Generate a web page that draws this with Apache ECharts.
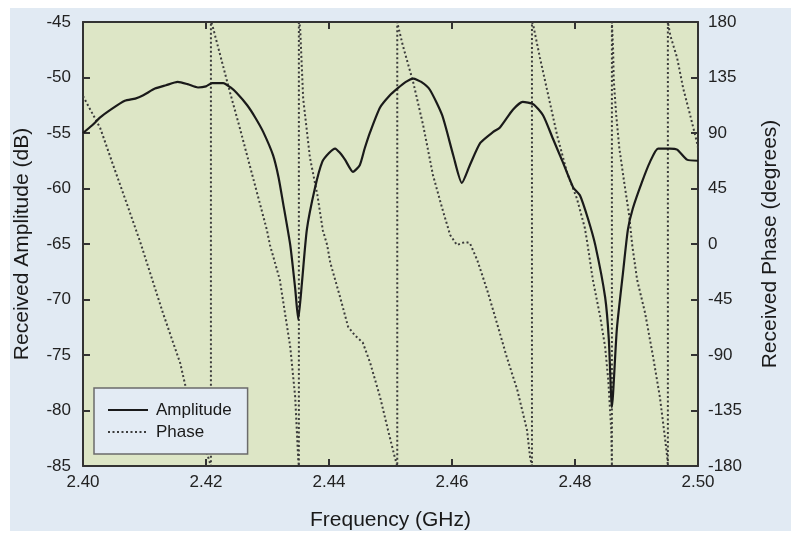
<!DOCTYPE html>
<html>
<head>
<meta charset="utf-8">
<script src="https://cdn.jsdelivr.net/npm/echarts@6/dist/echarts.min.js"></script>
<style>
  html, body { margin: 0; padding: 0; background: #ffffff; }
  #bg { position: absolute; left: 10px; top: 8px; width: 781px; height: 523px; background: #e1eaf3; }
  #chart { position: absolute; left: 0; top: 0; width: 791px; height: 533px; }
</style>
</head>
<body>
<div id="bg"></div>
<div id="chart"></div>
<script>
// ---- Data ----
const freqTicks = [2.40, 2.42, 2.44, 2.46, 2.48, 2.50];

const ampFreq = [2.4000, 2.4015, 2.4028, 2.4045, 2.4068, 2.4085, 2.4098, 2.4117, 2.4135, 2.4154,
  2.4170, 2.4187, 2.4200, 2.4210, 2.4228, 2.4240, 2.4250, 2.4267, 2.4280, 2.4293,
  2.4309, 2.4318, 2.4325, 2.4337, 2.4345, 2.4350, 2.4356, 2.4364, 2.4377, 2.4389,
  2.4400, 2.4410, 2.4418, 2.4426, 2.4439, 2.4450, 2.4458, 2.4467, 2.4483, 2.4499,
  2.4511, 2.4525, 2.4537, 2.4550, 2.4564, 2.4584, 2.4602, 2.4616, 2.4629, 2.4646,
  2.4667, 2.4678, 2.4699, 2.4715, 2.4732, 2.4748, 2.4764, 2.4780, 2.4797, 2.4808,
  2.4821, 2.4833, 2.4849, 2.4855, 2.4860, 2.4868, 2.4878, 2.4886, 2.4894, 2.4909,
  2.4922, 2.4935, 2.4954, 2.4966, 2.4982, 2.5000];
const ampDb = [-55.0, -54.3, -53.6, -52.9, -52.1, -51.9, -51.6, -51.0, -50.7, -50.4,
  -50.6, -50.9, -50.8, -50.5, -50.5, -50.9, -51.4, -52.5, -53.6, -54.9,
  -57.0, -59.0, -61.2, -65.1, -69.0, -71.8, -68.5, -63.7, -60.0, -57.6,
  -56.8, -56.4, -56.8, -57.4, -58.5, -57.9, -56.4, -54.9, -52.7, -51.6,
  -51.0, -50.4, -50.1, -50.4, -51.1, -53.4, -57.0, -59.5, -57.9, -55.9,
  -54.9, -54.5, -52.9, -52.2, -52.4, -53.4, -55.5, -57.6, -59.9, -60.6,
  -62.7, -65.1, -69.8, -73.6, -79.7, -72.7, -67.6, -63.7, -61.8, -59.4,
  -57.6, -56.4, -56.4, -56.5, -57.4, -57.5];

const phaseFreq = [
  2.4000, 2.4003, 2.4028, 2.4049, 2.4072, 2.4093, 2.4104, 2.4130, 2.4158, 2.4167, 2.4188, 2.4208,
  2.4208, 2.4210, 2.4239, 2.4255, 2.4299, 2.4304, 2.4320, 2.4337, 2.4345, 2.4350, 2.4351,
  2.4351, 2.4353, 2.4358, 2.4369, 2.4381, 2.4390, 2.4397, 2.4402, 2.4418, 2.4431, 2.4442, 2.4455, 2.4467, 2.4483, 2.4496, 2.4507, 2.4511,
  2.4511, 2.4512, 2.4520, 2.4537, 2.4553, 2.4569, 2.4584, 2.4597, 2.4608, 2.4621, 2.4629, 2.4641, 2.4657, 2.4673, 2.4689, 2.4706, 2.4722, 2.4727, 2.4730,
  2.4730, 2.4732, 2.4743, 2.4759, 2.4771, 2.4787, 2.4803, 2.4816, 2.4820, 2.4829, 2.4841, 2.4849, 2.4854, 2.4859, 2.4860,
  2.4860, 2.4862, 2.4863, 2.4867, 2.4872, 2.4880, 2.4888, 2.4893, 2.4901, 2.4914, 2.4927, 2.4938, 2.4946, 2.4950, 2.4951,
  2.4951, 2.4955, 2.4966, 2.4976, 2.4987, 2.4998, 2.5000];
const phaseDeg = [
  120, 118.4, 94, 64, 31.6, 1.6, -15.4, -56, -96.5, -116, -148, -180,
  180, 178, 123, 94, 11.4, -0.8, -29, -83.5, -124, -175, -180,
  180, 176, 118, 70, 40, 11, -0.8, -15, -43, -67, -74, -80, -96.5, -124, -151, -173, -180,
  180, 177.6, 161, 131, 96.5, 56, 29, 7.3, -0.8, 1.6, 0.8, -13, -37, -64, -91.6, -118, -151, -173, -180,
  180, 177.6, 151, 115, 88, 58, 37, 13, 1, -29, -59, -83.5, -110, -151, -180,
  180, 157, 133, 104.6, 78, 50, 23.5, -0.8, -29, -56, -91.6, -124, -156, -173, -180,
  180, 169, 151, 126, 105, 83, 78];

const ampData = ampFreq.map((f, i) => [f, ampDb[i]]);
const phaseData = phaseFreq.map((f, i) => [f, phaseDeg[i]]);

const FONT = '"Liberation Sans", Arial, sans-serif';
const AX = '#333333';

const chart = echarts.init(document.getElementById('chart'), null, { renderer: 'canvas' });
chart.setOption({
  animation: false,
  backgroundColor: 'transparent',
  textStyle: { fontFamily: FONT },
  grid: {
    left: 83, right: 93, top: 22, bottom: 67,
    show: true, backgroundColor: '#dde6c6', borderColor: AX, borderWidth: 1,
    containLabel: false, outerBoundsMode: 'none'
  },
  legend: {
    orient: 'vertical',
    left: 94, top: 388,
    padding: [12, 16, 12, 13],
    itemGap: 2,
    itemWidth: 40, itemHeight: 14,
    backgroundColor: '#e3ebf4',
    borderColor: '#6b6b6b', borderWidth: 1.5,
    itemStyle: { opacity: 0, borderWidth: 0 },
    textStyle: { fontFamily: FONT, fontSize: 17, color: '#1a1a1a', lineHeight: 20, padding: [0, 0, 0, 3] },
    data: ['Amplitude', 'Phase']
  },
  xAxis: [{
    type: 'value', position: 'bottom', min: 2.40, max: 2.50, interval: 0.02,
    axisLine: { show: true, onZero: false, lineStyle: { color: AX, width: 2 } },
    axisTick: { show: true, inside: true, length: 7, lineStyle: { color: AX, width: 2 } },
    axisLabel: { show: true, margin: 8, fontSize: 17, color: '#222', fontFamily: FONT,
      showMinLabel: true, showMaxLabel: true, formatter: v => v.toFixed(2) },
    splitLine: { show: false },
    name: 'Frequency (GHz)', nameLocation: 'middle', nameGap: 44,
    nameTextStyle: { fontSize: 21, color: '#1a1a1a', fontFamily: FONT }
  }, {
    type: 'value', position: 'top', min: 2.40, max: 2.50, interval: 0.02,
    axisLine: { show: true, onZero: false, lineStyle: { color: AX, width: 2 } },
    axisTick: { show: true, inside: true, length: 7, lineStyle: { color: AX, width: 2 } },
    axisLabel: { show: false },
    splitLine: { show: false }
  }],
  yAxis: [{
    type: 'value', position: 'left', min: -85, max: -45, interval: 5,
    axisLine: { show: true, onZero: false, lineStyle: { color: AX, width: 2 } },
    axisTick: { show: true, inside: true, length: 7, lineStyle: { color: AX, width: 2 } },
    axisLabel: { show: true, margin: 12, fontSize: 17, color: '#222', fontFamily: FONT,
      showMinLabel: true, showMaxLabel: true },
    splitLine: { show: false },
    name: 'Received Amplitude (dB)', nameLocation: 'middle', nameGap: 50, nameRotate: 90,
    nameTextStyle: { fontSize: 21, color: '#1a1a1a', fontFamily: FONT }
  }, {
    type: 'value', position: 'right', min: -180, max: 180, interval: 45,
    axisLine: { show: true, onZero: false, lineStyle: { color: AX, width: 2 } },
    axisTick: { show: true, inside: true, length: 7, lineStyle: { color: AX, width: 2 } },
    axisLabel: { show: true, margin: 10, fontSize: 17, color: '#222', fontFamily: FONT,
      showMinLabel: true, showMaxLabel: true },
    splitLine: { show: false },
    name: 'Received Phase (degrees)', nameLocation: 'middle', nameGap: 62, nameRotate: 90,
    nameTextStyle: { fontSize: 21, color: '#1a1a1a', fontFamily: FONT }
  }],
  series: [{
    name: 'Phase', type: 'line', xAxisIndex: 0, yAxisIndex: 1,
    data: phaseData, symbol: 'none', smooth: false,
    lineStyle: { color: '#3c3c3c', width: 2, type: [2, 2.5] },
    itemStyle: { color: '#3c3c3c' }, z: 2
  }, {
    name: 'Amplitude', type: 'line', xAxisIndex: 0, yAxisIndex: 0,
    data: ampData, symbol: 'none', smooth: 0.2,
    lineStyle: { color: '#1a1a1a', width: 2.2 },
    itemStyle: { color: '#1a1a1a' }, z: 3
  }]
});
</script>
</body>
</html>
